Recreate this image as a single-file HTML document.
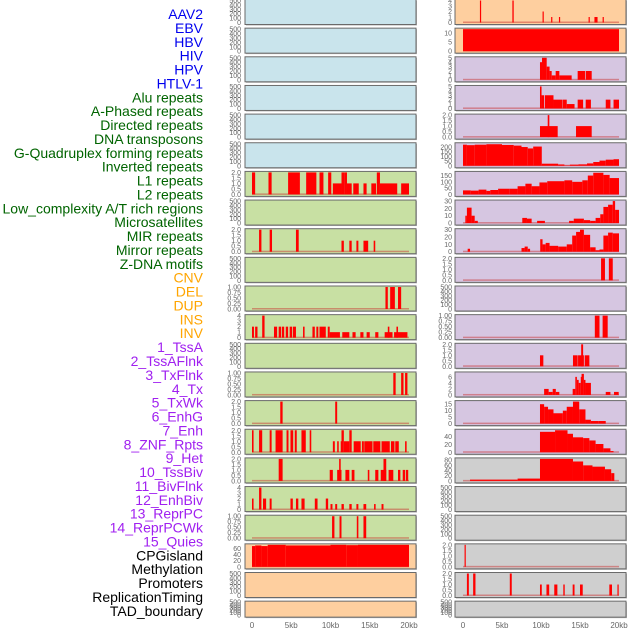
<!DOCTYPE html>
<html><head><meta charset="utf-8"><style>
body{margin:0;background:#fff;}
svg{display:block;font-family:"Liberation Sans",sans-serif;}
</style></head><body>
<svg id="chart" width="630" height="630" viewBox="0 0 630 630" xmlns="http://www.w3.org/2000/svg"></svg>
<script>
const trackLabels=["AAV2","EBV","HBV","HIV","HPV","HTLV-1","Alu repeats","A-Phased repeats","Directed repeats","DNA transposons","G-Quadruplex forming repeats","Inverted repeats","L1 repeats","L2 repeats","Low_complexity A/T rich regions","Microsatellites","MIR repeats","Mirror repeats","Z-DNA motifs","CNV","DEL","DUP","INS","INV","1_TssA","2_TssAFlnk","3_TxFlnk","4_Tx","5_TxWk","6_EnhG","7_Enh","8_ZNF_Rpts","9_Het","10_TssBiv","11_BivFlnk","12_EnhBiv","13_ReprPC","14_ReprPCWk","15_Quies","CPGisland","Methylation","Promoters","ReplicationTiming","TAD_boundary"];
const labelGroups=[6,13,5,15,5];
const groupColors=["#0000ee","#006400","#ffa500","#a020f0","#000000"];
const xTicks=[0,5000,10000,15000,20000];
const xTickLabels=["0","5kb","10kb","15kb","20kb"];

const ticksEmpty=[0,100,200,300,400,500];
const ticks2=[0,0.5,1,1.5,2];
const ticks1=[0,0.25,0.5,0.75,1];
const ticks4=[0,1,2,3,4];
// left column segments [startKb,endKb,value]
const L6=[[0,0.4,2],[2.1,2.5,2],[4.6,6.1,2],[6.9,8.2,2],[8.6,9.1,2],[9.7,10.1,2],[10.3,11.4,1],[11.4,11.8,2],[11.8,12.1,2],[12.1,12.7,1],[12.9,13.6,1],[14.2,14.6,1],[15.2,15.8,1],[15.9,16.3,2],[16.3,18.5,1],[19.0,20,1]];
const L8=[[0.9,1.2,2],[2.25,2.55,2],[5.6,5.95,2],[11.4,11.7,1],[12.4,12.7,1],[13.3,13.55,1],[14.2,14.8,1],[15.5,15.7,1]];
const L10=[[17.0,17.3,1],[17.6,18.2,1],[18.6,19.0,1]];
const L11=[[0,0.25,2],[0.4,0.7,2],[1.3,1.6,4],[2.8,3.2,2],[3.4,3.7,2],[3.8,4.1,2],[4.3,4.6,2],[4.8,5.1,2],[5.2,5.6,2],[6.5,6.7,2],[7.7,8.0,2],[8.2,8.45,2],[8.6,9.4,2],[9.65,9.9,2],[9.9,11.2,1],[11.5,12.4,1],[12.8,13.2,1],[13.8,14.2,1],[14.6,15.0,1],[15.7,16.1,1],[16.9,17.9,1],[17.3,17.5,2],[18.1,19.8,1],[18.4,18.6,2]];
const L13=[[18.0,18.3,1],[19.0,19.3,1],[19.5,19.8,1]];
const L14=[[3.6,3.9,2],[10.6,10.85,2]];
const L15=[[0,0.2,2],[0.9,1.3,2],[2.25,2.5,2],[3.0,3.9,2],[4.4,4.65,2],[4.9,5.25,2],[5.45,5.7,2],[6.3,6.85,2],[7.35,7.55,2],[10.3,10.55,1],[10.85,11.05,1],[11.3,11.5,1],[11.4,11.7,2],[11.7,12.4,1],[12.4,12.7,2],[12.95,13.85,1],[14.0,14.25,1],[14.3,15.35,1],[15.45,16.35,1],[16.5,17.55,1],[17.7,18.15,1],[18.25,18.7,1],[19.5,19.7,1]];
const L16=[[3.4,3.9,2],[9.9,10.3,1],[10.85,11.4,1],[11.1,11.3,2],[11.9,12.4,1],[12.7,13.05,1],[14.75,14.95,1],[15.7,16.1,1],[16.4,17.1,1],[16.75,17.1,2],[17.4,18.0,1],[18.6,18.9,1],[19.2,19.5,1],[19.6,19.9,1]];
const L17=[[0,0.2,2],[0.9,1.2,4],[1.4,1.8,2],[2.25,2.5,2],[4.9,5.2,2],[5.6,5.9,2],[6.3,6.7,2],[8.0,8.35,2],[9.4,9.7,2],[10.0,10.25,1],[10.6,10.85,1],[11.4,11.7,1],[12.4,12.7,1],[13.3,13.55,1],[14.2,14.55,1],[15.55,15.75,1],[16.5,16.75,1]];
const L18=[[10.2,10.5,1],[11.15,11.4,1],[13.35,13.55,1],[14.2,14.55,1]];
const L19=[[0,0.4,68],[0.4,1.2,70],[1.2,2.0,68],[2.0,4.3,72],[4.3,10.0,70],[10.0,12.0,72],[12.0,13.5,71],[13.5,20,72]];
// right column
const R0=[[2.17,2.32,4],[6.33,6.5,4],[10.2,10.35,2],[11.3,11.45,1],[12.3,12.45,1],[16.1,16.25,1],[16.85,17.25,1],[17.9,18.05,1]];
const R1=[[0,20,12]];
const R2=[[9.87,10.13,4],[10.13,10.73,5],[10.73,11.1,3],[11.1,11.37,2],[11.37,11.88,1],[11.88,12.35,2],[12.35,13.93,1],[14.7,15.64,2],[15.73,16.5,2]];
const R3=[[9.87,10.07,5],[10.07,10.4,3],[10.5,11.6,3],[11.6,12.7,2],[12.75,13.3,2],[13.3,14.3,1],[14.7,15.4,2],[15.73,16.4,2],[18.3,18.9,2],[19.3,20,2]];
const R4=[[9.87,12.14,1],[10.86,11.07,2],[14.49,16.5,1]];
const R5=[[0,0.5,225],[0.5,1.5,220],[1.5,3,225],[3,5,230],[5,6.5,222],[6.5,7.5,215],[7.5,8.3,200],[8.3,9,185],[9,10.1,205],[10.1,12.2,22],[12.2,13,14],[13,13.7,4],[13.7,14.8,12],[14.8,15.9,15],[15.9,16.7,25],[16.7,17.5,40],[17.5,18.3,55],[18.3,19.3,65],[19.3,20,70]];
const R6=[[0,1,32],[1,2,30],[2,3,38],[3,3.5,28],[3.5,4.5,35],[4.5,6,45],[6,7,45],[7,8,65],[8,8.8,85],[8.8,9.8,65],[9.8,10.8,95],[10.8,13,105],[13,14,112],[14,15.3,100],[15.3,16,112],[16,16.7,150],[16.7,18,172],[18,18.8,155],[18.8,20,130]];
const R7=[[0.3,0.5,10],[0.5,1.1,21],[1.1,1.5,10],[1.5,1.9,3],[7.6,8.2,7],[8.2,8.8,6],[9.5,10.5,3],[13.6,14.2,3],[14.2,15.5,6],[15.5,16.3,4],[16.3,17,3],[17,17.6,7],[17.6,18,12],[18,18.6,22],[18.6,19.2,25],[19.2,19.5,30],[19.5,20,18]];
const R8=[[0.6,0.9,4],[7.5,7.9,5],[7.9,8.3,7],[8.3,8.6,4],[9.9,10.2,17],[10.2,10.6,10],[10.6,11.1,12],[11.1,12.2,8],[12.2,13.3,7],[13.3,14,10],[14,14.5,22],[14.5,15,27],[15,15.5,30],[15.5,16.3,23],[16.3,17,6],[17,17.5,2],[17.5,18,3],[18,18.6,22],[18.6,19.2,26],[19.2,20,25]];
const R9=[[17.7,18.2,2],[18.7,19.2,2]];
const R11=[[16.9,17.5,1],[17.9,18.55,1]];
const R12=[[9.87,10.3,1],[14.1,14.7,1],[14.75,15.5,1],[15.15,15.4,2],[15.6,16.2,1]];
const R13=[[10.4,10.98,2],[10.98,11.5,1],[11.5,11.9,2],[11.9,12.35,1],[14.06,14.4,2],[14.4,14.6,6],[14.6,14.83,5],[14.83,15.1,4],[15.1,15.2,6],[15.2,15.5,7],[15.5,15.7,5],[15.7,16.4,4],[18.3,18.9,1],[19.36,19.96,1]];
const R14=[[9.87,10.4,15],[10.4,10.9,13],[10.9,11.6,11],[11.6,12.8,8],[12.8,13.3,10],[13.3,14.1,13],[14.1,14.9,17],[14.9,15.7,11],[15.7,16.4,3],[16.4,17.4,2],[17.4,18.3,2]];
const R15=[[9.87,11.8,52],[11.8,13.4,56],[13.4,14.1,47],[14.1,15.4,38],[15.4,16.2,36],[16.2,17,30],[17,18,21],[18,18.9,10],[18.9,19.3,3]];
const R16=[[0.9,7,5],[7,9.87,9],[9.87,14.1,85],[14.1,15.4,75],[15.4,16.6,60],[16.6,18.2,55],[18.2,19,45],[19,19.4,30]];
const R19=[[0.2,0.35,2]];
const R20=[[0.5,0.75,2],[1.3,1.6,2],[6.0,6.25,2],[9.87,10.1,1],[10.7,11.05,1],[11.7,12.1,1],[12.86,13.04,1],[14.06,14.3,1],[15.0,15.35,1],[18.76,19.1,1],[19.8,19.96,1]];

const BLUE="#c9e4ec",GREEN="#c8e0a3",ORANGE="#fecf9f",PURPLE="#d6c6e1",GREY="#cfcfcf";
const leftBg=[BLUE,BLUE,BLUE,BLUE,BLUE,BLUE,GREEN,GREEN,GREEN,GREEN,GREEN,GREEN,GREEN,GREEN,GREEN,GREEN,GREEN,GREEN,GREEN,ORANGE,ORANGE,ORANGE];
const rightBg=[ORANGE,ORANGE,PURPLE,PURPLE,PURPLE,PURPLE,PURPLE,PURPLE,PURPLE,PURPLE,PURPLE,PURPLE,PURPLE,PURPLE,PURPLE,PURPLE,GREY,GREY,GREY,GREY,GREY,GREY];
const leftData=[null,null,null,null,null,null,L6,null,L8,null,L10,L11,null,L13,L14,L15,L16,L17,L18,L19,null,null];
const leftMax=[500,500,500,500,500,500,2,500,2,500,1,4,500,1,2,2,2,4,1,72,500,500];
const leftTicks=[ticksEmpty,ticksEmpty,ticksEmpty,ticksEmpty,ticksEmpty,ticksEmpty,ticks2,ticksEmpty,ticks2,ticksEmpty,ticks1,ticks4,ticksEmpty,ticks1,ticks2,ticks2,ticks2,ticks4,ticks1,[0,20,40,60],ticksEmpty,ticksEmpty];
const rightData=[R0,R1,R2,R3,R4,R5,R6,R7,R8,R9,null,R11,R12,R13,R14,R15,R16,null,null,R19,R20,null];
const rightMax=[4,12,5,5,2,235,175,30,30,2,500,1,2,7.3,17,56,85,500,500,2,2,500];
const rightTicks=[ticks4,[0,5,10],[0,1,2,3,4,5],[0,1,2,3,4,5],ticks2,[0,50,100,150,200],[0,50,100,150],[0,10,20,30],[0,10,20,30],ticks2,ticksEmpty,ticks1,ticks2,[0,2,4,6],[0,5,10,15],[0,20,40],[0,20,40,60,80],ticksEmpty,ticksEmpty,ticks2,ticks2,ticksEmpty];

const NS="http://www.w3.org/2000/svg";
const svg=document.getElementById('chart');
function mk(tag,attrs,parent){const e=document.createElementNS(NS,tag);for(const k in attrs)e.setAttribute(k,attrs[k]);(parent||svg).appendChild(e);return e;}
function fmt(v,t){if(t===ticks1)return v.toFixed(2);if(t===ticks2)return v.toFixed(1);return String(v);}

// labels
let gi=0,cnt=0;
trackLabels.forEach((lab,i)=>{
  while(cnt>=labelGroups[gi]){cnt=0;gi++;}
  cnt++;
  const t=mk('text',{x:203,y:14+i*13.88+5,'text-anchor':'end','font-size':14,fill:groupColors[gi]});
  t.textContent=lab;
  
  
});

function drawCol(x0,x1,dx0,dx1,bgs,datas,maxes,ticks,tickX,side){
  const xs=v=>dx0+(v/20)*(dx1-dx0);
  for(let r=0;r<22;r++){
    const top=r*28.65-0.5, h=(r===21)?16:25;
    const g=mk('g',{});
    
    
    mk('rect',{x:x0+1,y:top+1,width:x1-x0,height:h,fill:'#b5b5b5'},g);
    mk('rect',{x:x0,y:top,width:x1-x0,height:h,fill:bgs[r],stroke:'#6a6a6a','stroke-width':1},g);
    const base=top+h-2, ph=h-3, mx=maxes[r];
    const ys=v=>base-(v/mx)*ph;
    ticks[r].forEach(v=>{
      const t=mk('text',{x:tickX,y:ys(v)+2.5,'text-anchor':'end','font-size':7,fill:'#666'},g);
      t.textContent=fmt(v,ticks[r]);
      
      
    });
    const d=datas[r];
    if(d){
      mk('rect',{x:xs(0),y:base-1,width:xs(20)-xs(0),height:1.5,fill:'rgba(200,40,40,0.45)'},g);
      d.forEach(s=>{
        const w=Math.max(1.2,xs(s[1])-xs(s[0]));
        const b=mk('rect',{x:xs(s[0]),y:ys(s[2]),width:w,height:base-ys(s[2]),fill:'#ff0000'},g);
        
        
      });
    }
  }
  xTicks.forEach((v,i)=>{
    const t=mk('text',{x:xs(v/1000),y:628,'text-anchor':'middle','font-size':8,fill:'#666'});
    t.textContent=xTickLabels[i];
    
    
  });
}
drawCol(245,416,252,409,leftBg,leftData,leftMax,leftTicks,241,'left');
drawCol(455,626,463,619,rightBg,rightData,rightMax,rightTicks,452,'right');
</script>
</body></html>
